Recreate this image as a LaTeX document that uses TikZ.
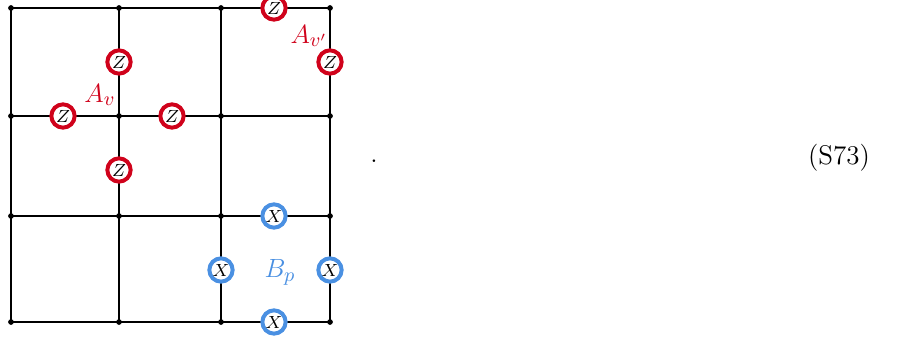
\documentclass[tikz,border=0pt]{standalone}
\usetikzlibrary{calc}
\definecolor{zred}{HTML}{D0021B}
\definecolor{xblue}{HTML}{4A90E2}
\begin{document}
\begin{tikzpicture}[x=0.455pt,y=-0.455pt,
  every node/.style={font=\fontsize{12.3}{14}\selectfont},
  gridline/.style={line width=0.95pt},
  vdot/.style={circle,fill=black,inner sep=0pt,minimum size=2.6pt},
  zop/.style={circle,draw=zred,line width=1.8pt,fill=white,inner sep=0pt,minimum size=10.6pt,font=\fontsize{8.3}{9}\selectfont},
  xop/.style={circle,draw=xblue,line width=1.8pt,fill=white,inner sep=0pt,minimum size=10.6pt,font=\fontsize{8.3}{9}\selectfont},
  zlab/.style={text=zred},
  xlab/.style={text=xblue}]
\useasboundingbox (0,0) rectangle (909,337);
% grid coordinates
\foreach \i/\x in {0/11,1/119,2/221,3/330}{
  \foreach \j/\y in {0/8,1/116,2/216,3/322}{
    \coordinate (g\i\j) at (\x,\y);
  }
}
\foreach \j in {0,1,2,3}{
  \draw[gridline] (g0\j) -- (g3\j);
  \draw[gridline] (g\j0) -- (g\j3);
}
\foreach \i in {0,1,2,3}{
  \foreach \j in {0,1,2,3}{
    \node[vdot] (d\i\j) at (g\i\j) {};
  }
}
% Z operators
\node[zop] (z1) at (119,62) {$Z$};
\node[zop] (z2) at (63,116) {$Z$};
\node[zop] (z3) at (172,116) {$Z$};
\node[zop] (z4) at (119,170) {$Z$};
\node[zop] (z5) at (274,8) {$Z$};
\node[zop] (z6) at (330,62) {$Z$};
% X operators
\node[xop] (x1) at (274,216) {$X$};
\node[xop] (x2) at (221,270) {$X$};
\node[xop] (x3) at (330,270) {$X$};
\node[xop] (x4) at (274,322) {$X$};
% labels
\node[zlab] (av) at (100,95) {$A_v$};
\node[zlab] (avp) at (309,36) {$A_{v'}$};
\node[xlab] (bp) at (280,272) {$B_p$};
\node (dot) at (374,161) {.};
\node (eqn) at (839,158) {(S73)};
\end{tikzpicture}
\end{document}
